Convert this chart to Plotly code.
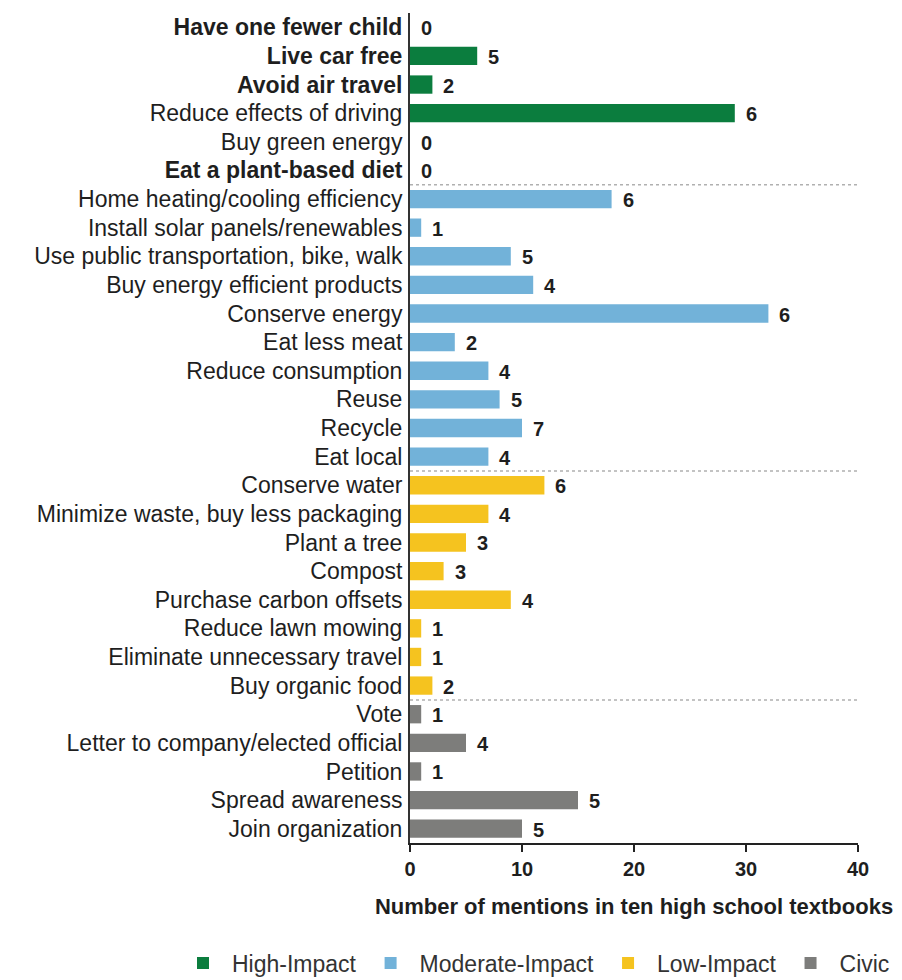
import plotly.graph_objects as go

categories = [
    "Have one fewer child", "Live car free", "Avoid air travel", "Reduce effects of driving",
    "Buy green energy", "Eat a plant-based diet",
    "Home heating/cooling efficiency", "Install solar panels/renewables",
    "Use public transportation, bike, walk", "Buy energy efficient products",
    "Conserve energy", "Eat less meat", "Reduce consumption", "Reuse", "Recycle", "Eat local",
    "Conserve water", "Minimize waste, buy less packaging", "Plant a tree", "Compost",
    "Purchase carbon offsets", "Reduce lawn mowing", "Eliminate unnecessary travel", "Buy organic food",
    "Vote", "Letter to company/elected official", "Petition", "Spread awareness", "Join organization",
]
bold_labels = ["Have one fewer child", "Live car free", "Avoid air travel", "Eat a plant-based diet"]
groups = (["High-Impact"] * 6 + ["Moderate-Impact"] * 10 + ["Low-Impact"] * 8 + ["Civic"] * 5)
mentions = [0, 6, 2, 29, 0, 0,
            18, 1, 9, 11, 32, 4, 7, 8, 10, 7,
            12, 7, 5, 3, 9, 1, 1, 2,
            1, 5, 1, 15, 10]
textbooks = [0, 5, 2, 6, 0, 0,
             6, 1, 5, 4, 6, 2, 4, 5, 7, 4,
             6, 4, 3, 3, 4, 1, 1, 2,
             1, 4, 1, 5, 5]
group_names = ["High-Impact", "Moderate-Impact", "Low-Impact", "Civic"]
group_colors = {"High-Impact": "#0b7d3e", "Moderate-Impact": "#72b2d9",
                "Low-Impact": "#f5c31f", "Civic": "#7d7d7b"}
x_ticks = [0, 10, 20, 30, 40]

FONT = "Liberation Sans, Arial, Helvetica, sans-serif"
TXT = "#1e1e1e"

# page body has an 8px margin, so the figure is 8px smaller than the window
W, H = 894, 972
L, R, T, B = 402, 44, 5, 137
plot_h = H - T - B
plot_w = W - L - R

fig = go.Figure()
idx = list(range(len(categories)))
for g in group_names:
    ys = [i for i in idx if groups[i] == g]
    fig.add_trace(go.Bar(
        x=[mentions[i] for i in ys], y=ys, orientation="h", name=g,
        marker=dict(color=group_colors[g], line=dict(width=0)), width=0.64,
        hoverinfo="x+y",
    ))

for i in idx:
    fig.add_annotation(x=mentions[i], y=i, text="<b>%d</b>" % textbooks[i], showarrow=False,
                       xanchor="left", yanchor="middle", xshift=9, yshift=-1,
                       font=dict(family=FONT, size=20, color=TXT))

# dotted separators between groups
for i in range(1, len(categories)):
    if groups[i] != groups[i - 1]:
        fig.add_shape(type="line", xref="x", yref="y", x0=0, x1=40, y0=i - 0.5, y1=i - 0.5,
                      line=dict(color="#b0b0b0", width=1.5, dash="dot"))

ticktext = ["<b>%s</b>" % c if c in bold_labels else c for c in categories]

legend_center_y = 955  # figure px
legend_left_x = 166    # figure px
fig.update_layout(
    width=W, height=H,
    margin=dict(l=L, r=R, t=T, b=B, autoexpand=False),
    plot_bgcolor="white", paper_bgcolor="white",
    barmode="overlay",
    font=dict(family=FONT, color=TXT),
    showlegend=True,
    legend=dict(orientation="h", x=(legend_left_x - L) / plot_w, xanchor="left", xref="paper",
                y=-(legend_center_y - (H - B)) / plot_h, yanchor="middle", yref="paper",
                font=dict(size=23, color="#333"), itemwidth=48,
                traceorder="normal"),
    xaxis=dict(range=[0, 40], tickvals=x_ticks, ticktext=["<b>%d</b>" % v for v in x_ticks],
               showgrid=False, zeroline=False, showline=True, linecolor="#222", linewidth=2,
               ticks="outside", ticklen=7, tickwidth=2, tickcolor="#222",
               tickfont=dict(size=20, color=TXT),
               title=dict(text="<b>Number of mentions in ten high school textbooks</b>",
                          font=dict(size=22, color=TXT), standoff=20)),
    yaxis=dict(range=[28.5, -0.5], tickvals=idx, ticktext=ticktext,
               showgrid=False, zeroline=False, showline=True, linecolor="#333", linewidth=2,
               ticks="", tickfont=dict(size=23, color=TXT), ticklabelstandoff=1),
)
fig.write_html("out.html")
